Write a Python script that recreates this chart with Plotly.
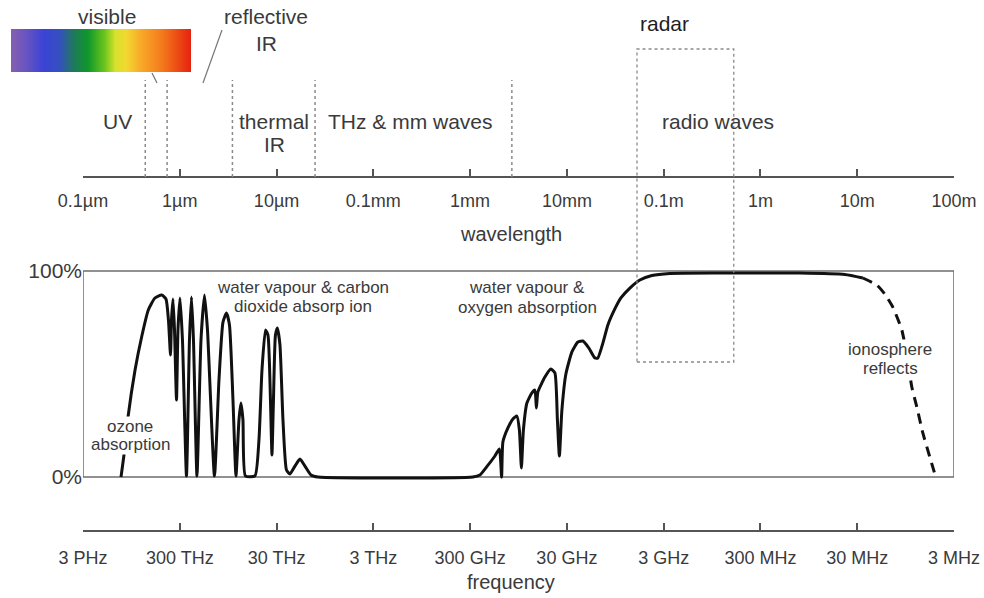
import numpy as np
import plotly.graph_objects as go

W, H = 984, 598
FONT = "Liberation Sans, Arial, sans-serif"
TXT = "#3a3a3a"

# ---- data -------------------------------------------------------------
# atmospheric transmission: wavelength in micrometres, transmission in %
# optical / infrared part
ir_wavelength_um = [0.247, 0.265, 0.292, 0.345, 0.404, 0.473, 0.554, 0.650, 0.720, 0.764,
                    0.802, 0.821, 0.851, 0.882, 0.925, 0.958, 1.005, 1.066, 1.173, 1.259,
                    1.321, 1.385, 1.505, 1.656, 1.800, 1.933, 2.283, 2.541, 2.795, 3.037,
                    3.262, 3.545, 3.807, 4.089, 4.288, 4.496, 4.771, 5.982, 6.580, 7.068,
                    7.680, 8.151, 8.650, 8.964, 9.290, 9.741, 10.21, 10.84, 11.65, 12.66,
                    13.75, 15.49, 17.45, 19.65, 22.67, 26.78, 1069]
ir_transmission = [0, 10.7, 29.1, 51.9, 68.1, 81.1, 86.9, 88.3, 86.4, 76.2,
                   59.2, 76.2, 86.4, 71.4, 37.4, 71.4, 86.9, 66.5, 0.5, 66.5,
                   87.4, 66.5, 0.5, 66.5, 88.3, 71.4, 0.5, 47.1, 75.2, 79.6,
                   73.8, 37.4, 0.5, 27.7, 35.9, 27.7, 0.5, 0.5, 18.0, 51.9,
                   71.4, 68.9, 37.4, 10.7, 37.4, 68.9, 72.3, 64.1, 27.7, 3.4,
                   1.5, 5.3, 8.7, 5.3, 1.0, 0, 0]

# millimetre-wave / radio part
radio_wavelength_um = [1262, 1481, 1804, 2008, 2116, 2182, 2458, 2768, 3044, 3231,
                       3388, 3553, 3862, 4349, 4671, 4841, 5017, 5926, 6835, 7516,
                       7980, 8366, 8878, 9765, 11270, 12990, 14630, 16880, 19470, 20900,
                       23550, 26520, 30590, 36140, 44760, 56770, 75520, 115900, 380700,
                       2553000, 7446000, 11430000]
radio_transmission = [1.0, 4.9, 10.2, 13.6, 0, 17.0, 23.8, 28.2, 29.6, 22.8,
                      4.4, 22.8, 35.9, 40.8, 42.2, 33.5, 41.3, 48.5, 52.4, 50.5,
                      27.7, 10.2, 32.5, 50.0, 60.7, 65.5, 66.0, 62.6, 57.8, 57.8,
                      65.0, 73.8, 80.6, 86.9, 91.7, 95.6, 97.8, 98.8, 99.0,
                      99.0, 98.3, 96.6]

# long wavelengths reflected by the ionosphere
iono_wavelength_um = [11430000, 15940000, 19280000, 23320000, 28880000, 32540000,
                      36640000, 41280000, 47620000, 56230000, 63340000]
iono_transmission = [96.6, 93.2, 88.8, 82.5, 71.4, 59.2, 43.7, 34.0, 21.4, 9.7, 1.5]

# axis ticks
tick_wavelength_um = [0.1, 1, 10, 100, 1e3, 1e4, 1e5, 1e6, 1e7, 1e8]
wavelength_labels = ["0.1µm", "1µm", "10µm", "0.1mm", "1mm", "10mm",
                     "0.1m", "1m", "10m", "100m"]
frequency_labels = ["3 PHz", "300 THz", "30 THz", "3 THz", "300 GHz", "30 GHz",
                    "3 GHz", "300 MHz", "30 MHz", "3 MHz"]

# band boundaries (µm)
band_edges_um = [0.44, 0.74, 3.5, 25, 2700]
radar_band_um = [5.3e4, 5.3e5]

# visible spectrum colours
spectrum_colors = [[0.0, "#8560b0"], [0.08, "#6a55c0"], [0.18, "#3b43d6"], [0.27, "#3550c0"],
                   [0.35, "#1e7a5a"], [0.43, "#10982a"], [0.52, "#6cc41e"], [0.58, "#d6e22c"],
                   [0.64, "#f2d830"], [0.72, "#f8aa28"], [0.84, "#f47a1c"], [1.0, "#e6220f"]]

# ---- helpers -------------------------------------------------------------
def fx(p):
    return p / W


def fy(p):
    return 1 - p / H


lg = np.log10
XDOM = [fx(83), fx(954)]
XR = [-1, 8]

fig = go.Figure()

# transmission curve
solid_x = lg(np.array(ir_wavelength_um + radio_wavelength_um, dtype=float))
solid_y = ir_transmission + radio_transmission
fig.add_trace(go.Scatter(x=solid_x, y=solid_y, mode="lines",
                         line=dict(color="#111111", width=3, shape="spline", smoothing=0.5),
                         hoverinfo="skip", showlegend=False))
fig.add_trace(go.Scatter(x=lg(np.array(iono_wavelength_um, dtype=float)), y=iono_transmission,
                         mode="lines",
                         line=dict(color="#111111", width=3, dash="10px,7px",
                                   shape="spline", smoothing=0.5),
                         hoverinfo="skip", showlegend=False))

# carriers for the wavelength and frequency axes
tick_x = lg(np.array(tick_wavelength_um))
fig.add_trace(go.Scatter(x=tick_x, y=[None] * len(tick_x), xaxis="x2", yaxis="y",
                         mode="markers", hoverinfo="skip", showlegend=False))
fig.add_trace(go.Scatter(x=tick_x, y=[None] * len(tick_x), xaxis="x3", yaxis="y",
                         mode="markers", hoverinfo="skip", showlegend=False))

# visible spectrum bar
fig.add_trace(go.Scatter(x=[0, 1, 1, 0, 0], y=[0, 0, 1, 1, 0], xaxis="x4", yaxis="y4",
                         mode="lines", fill="toself",
                         fillgradient=dict(type="horizontal", colorscale=spectrum_colors),
                         line=dict(width=0, color="rgba(0,0,0,0)"),
                         hoverinfo="skip", showlegend=False))

axis_common = dict(range=XR, showgrid=False, zeroline=False, tickvals=tick_x,
                   ticks="inside", ticklen=7, tickwidth=1.5, tickcolor="#555",
                   showline=True, linecolor="#555", linewidth=1.5, automargin=False,
                   tickfont=dict(size=18, color=TXT, family=FONT))

shapes = []
# plot frame
shapes.append(dict(type="rect", xref="x", yref="y", x0=-1, x1=8, y0=0, y1=100,
                   line=dict(color="#6e6e6e", width=1.5), layer="below"))
# band separators
for e in band_edges_um:
    shapes.append(dict(type="line", xref="x", yref="paper", x0=lg(e), x1=lg(e),
                       y0=fy(177), y1=fy(80),
                       line=dict(color="#8a8a8a", width=1.5, dash="dot")))
# radar band box
shapes.append(dict(type="rect", xref="x", yref="paper",
                   x0=lg(radar_band_um[0]), x1=lg(radar_band_um[1]),
                   y0=fy(362), y1=fy(49),
                   line=dict(color="#8a8a8a", width=1.3, dash="dot")))
# pointers from the labels to the band edges
shapes.append(dict(type="line", xref="paper", yref="paper", x0=fx(152), y0=fy(73),
                   x1=fx(157), y1=fy(83), line=dict(color="#777", width=1.2)))
shapes.append(dict(type="line", xref="paper", yref="paper", x0=fx(222), y0=fy(30),
                   x1=fx(203), y1=fy(83), line=dict(color="#777", width=1.2)))

annotations = []


def label(text, xp, yp, size=21, color=TXT, bg=None):
    a = dict(text=text, x=fx(xp), y=fy(yp), xref="paper", yref="paper",
             showarrow=False, xanchor="center", yanchor="middle",
             font=dict(size=size, color=color, family=FONT))
    if bg:
        a["bgcolor"] = bg
        a["borderpad"] = 0
    annotations.append(a)


label("visible", 107, 17)
label("reflective", 266, 17)
label("IR", 266, 44)
label("UV", 117, 122)
label("thermal", 274, 122)
label("IR", 274, 145)
label("THz & mm waves", 410, 122)
label("radar", 664, 24, color="#1e1e1e")
label("radio waves", 718, 122)
label("wavelength", 511, 234, size=20)
label("frequency", 511, 582, size=20)

label("ozone", 130, 426, size=17, bg="white")
label("absorption", 130, 445, size=17, bg="white")
label("water vapour & carbon", 303, 287, size=17)
label("dioxide absorp ion", 303, 306, size=17)
label("water vapour &", 527, 287, size=17)
label("oxygen absorption", 527, 307, size=17)
label("ionosphere", 890, 349, size=17, bg="white")
label("reflects", 890, 368, size=17, bg="white")

fig.update_layout(
    width=W, height=H, autosize=False,
    margin=dict(l=0, r=0, t=0, b=0, pad=0, autoexpand=False),
    paper_bgcolor="white", plot_bgcolor="white",
    font=dict(family=FONT, color=TXT),
    showlegend=False,
    xaxis=dict(domain=XDOM, range=XR, showgrid=False, zeroline=False, automargin=False,
               showticklabels=False, ticks="", showline=False, fixedrange=True),
    yaxis=dict(domain=[fy(481.12), fy(266.88)], range=[-2, 102], automargin=False,
               showgrid=False, zeroline=False, showline=False, ticks="",
               tickvals=[0, 100], ticktext=["0%", "100%"],
               tickfont=dict(size=21, color=TXT, family=FONT)),
    xaxis2=dict(overlaying="x", anchor="free", position=fy(177), side="bottom",
                ticktext=wavelength_labels, ticklabelstandoff=8, **axis_common),
    xaxis3=dict(overlaying="x", anchor="free", position=fy(531), side="bottom",
                ticktext=frequency_labels, ticklabelstandoff=11, **axis_common),
    xaxis4=dict(domain=[fx(11), fx(191)], range=[0, 1], anchor="y4", visible=False),
    yaxis4=dict(domain=[fy(72), fy(29)], range=[0, 1], anchor="x4", visible=False),
    shapes=shapes,
    annotations=annotations,
)

fig.write_html("out.html")
